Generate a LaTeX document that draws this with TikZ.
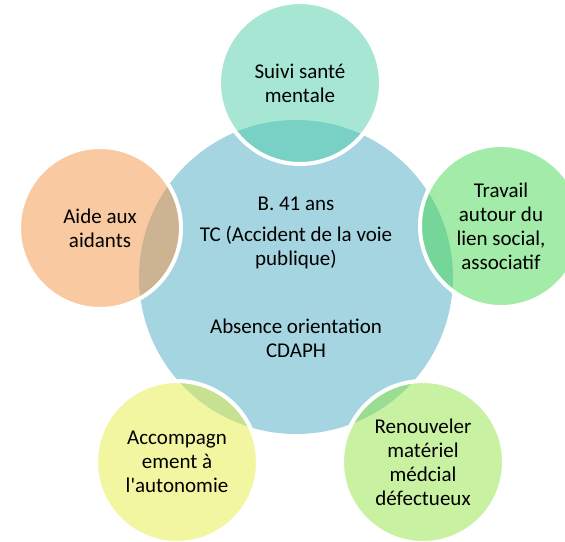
\documentclass[tikz,border=0pt]{standalone}
\usepackage{fontspec}
\setmainfont{Carlito}
\definecolor{cblue}{RGB}{166,213,226}
\definecolor{cteal}{RGB}{77,205,167}
\definecolor{corange}{RGB}{243,147,67}
\definecolor{cgreen}{RGB}{71,215,81}
\definecolor{clime}{RGB}{145,227,69}
\definecolor{cyellow}{RGB}{231,237,67}
\begin{document}
\begin{tikzpicture}[x=1pt,y=-1pt,
  every node/.style={font=\fontsize{21}{24}\selectfont, text=black, align=center},
  hub/.style={circle, fill=cblue, minimum size=314pt, inner sep=0pt},
  outer/.style={circle, minimum size=162pt, inner sep=0pt, draw=white, line width=4pt, fill opacity=0.5, text opacity=1}]
\useasboundingbox (0,0) rectangle (565,541);
\node[hub] (center) at (296,277) {B. 41 ans\\[7pt]TC (Accident de la voie\\publique)\\[44pt]Absence orientation\\CDAPH};
\node[outer, fill=cteal] (top) at (300,83) {Suivi santé\\mentale};
\node[outer, fill=cgreen] (right) at (501,226) {Travail\\autour du\\lien social,\\associatif};
\node[outer, fill=clime] (bright) at (423,462) {Renouveler\\matériel\\médcial\\défectueux};
\node[outer, fill=cyellow] (bleft) at (177,462) {Accompagn\\ement à\\l\textquotesingle autonomie};
\node[outer, fill=corange] (left) at (100,228) {Aide aux\\aidants};
\end{tikzpicture}
\end{document}
